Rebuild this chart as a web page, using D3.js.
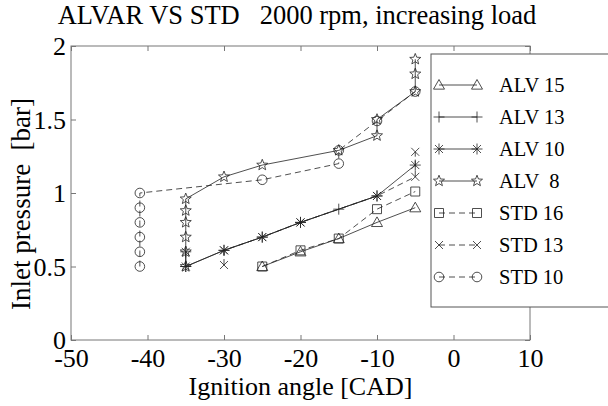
<!DOCTYPE html>
<html><head><meta charset="utf-8">
<script src="https://cdn.jsdelivr.net/npm/d3@7"></script>
<style>body{margin:0;background:#fff}svg{display:block}text{font-family:"Liberation Serif","Times New Roman",serif;fill:#000}</style>
</head><body>
<svg id="c" width="608" height="406"></svg>
<script>
const xTicks = [-50,-40,-30,-20,-10,0,10];
const yTicks = [0,0.5,1,1.5,2];
const yTickLabels = ["0","0.5","1","1.5","2"];

const alv15X = [-25,-20,-15,-10,-5];
const alv15Y = [0.5,0.6,0.69,0.8,0.9];
const alv13X = [-35,-30,-25,-20,-15,-10];
const alv13Y = [0.5,0.61,0.7,0.8,0.89,0.98];
const alv10X = [-35,-35,-30,-25,-20,-10,-5];
const alv10Y = [0.6,0.5,0.61,0.7,0.8,0.98,1.19];
const alv8X = [-35,-35,-35,-35,-35,-35,-30,-25,-15,-10,-10,-5,-5,-5];
const alv8Y = [0.5,0.6,0.7,0.8,0.88,0.96,1.11,1.19,1.29,1.39,1.5,1.69,1.81,1.91];
const std16X = [-25,-20,-15,-10,-5];
const std16Y = [0.5,0.61,0.69,0.89,1.01];
const std13X = [-30,-30,-25,-20,-10,-5,-5];
const std13Y = [0.51,0.61,0.7,0.8,0.98,1.11,1.28];
const std10X = [-41,-41,-41,-41,-41,-41,-25,-15,-15,-10,-5];
const std10Y = [0.5,0.6,0.7,0.8,0.9,1.0,1.09,1.2,1.29,1.49,1.69];

const seriesNames = ["ALV 15","ALV 13","ALV 10","ALV  8","STD 16","STD 13","STD 10"];
const seriesX = [alv15X,alv13X,alv10X,alv8X,std16X,std13X,std10X];
const seriesY = [alv15Y,alv13Y,alv10Y,alv8Y,std16Y,std13Y,std10Y];
const seriesMarker = ["triangle","plus","asterisk","star","square","x","circle"];
const seriesDashed = [false,false,false,false,true,true,true];

const W=608,H=406, L=71, R=530, T=46, B=340;
const FS = 26;
const svg = d3.select("#c");
const x = d3.scaleLinear().domain([-50,10]).range([L,R]);
const y = d3.scaleLinear().domain([0,2]).range([B,T]);

function markerPath(type){
  const p = d3.path();
  if(type==="triangle"){ const r=5.5; p.moveTo(0,-r); p.lineTo(r,r*0.75); p.lineTo(-r,r*0.75); p.closePath(); }
  else if(type==="plus"){ const r=5.5; p.moveTo(-r,0);p.lineTo(r,0);p.moveTo(0,-r);p.lineTo(0,r); }
  else if(type==="x"){ const r=4; p.moveTo(-r,-r);p.lineTo(r,r);p.moveTo(-r,r);p.lineTo(r,-r); }
  else if(type==="asterisk"){ const r=5.5,d=4; p.moveTo(-r,0);p.lineTo(r,0);p.moveTo(0,-r);p.lineTo(0,r);p.moveTo(-d,-d);p.lineTo(d,d);p.moveTo(-d,d);p.lineTo(d,-d); }
  else if(type==="square"){ const r=4.5; p.rect(-r,-r,2*r,2*r); }
  else if(type==="circle"){ p.arc(0,0,4.8,0,Math.PI*2); p.closePath(); }
  else if(type==="star"){ const ro=5.8, ri=2.5; for(let i=0;i<10;i++){ const a=-Math.PI/2+i*Math.PI/5; const rr=i%2?ri:ro; const px=rr*Math.cos(a), py=rr*Math.sin(a); if(i===0)p.moveTo(px,py); else p.lineTo(px,py);} p.closePath(); }
  return p.toString();
}

const g = svg.append("g");
g.append("rect").attr("x",L).attr("y",T).attr("width",R-L).attr("height",B-T)
 .attr("fill","none").attr("stroke","#777").attr("stroke-width",1);

const axB = d3.axisBottom(x).tickValues(xTicks).tickSize(-5).tickPadding(9).tickFormat(d=>String(d));
const axT = d3.axisTop(x).tickValues(xTicks).tickSize(-5).tickFormat("");
const axLf = d3.axisLeft(y).tickValues(yTicks).tickSize(-5).tickPadding(5).tickFormat((d,i)=>yTickLabels[i]);
const axRt = d3.axisRight(y).tickValues(yTicks).tickSize(-5).tickFormat("");
function styleAx(sel){ sel.attr("font-family",null).attr("font-size",null);
  sel.select(".domain").remove(); sel.selectAll(".tick line").attr("stroke","#777");
  sel.selectAll("text").style("font-size",FS+"px").attr("fill","#000"); }
g.append("g").attr("transform",`translate(0,${B})`).call(axB).call(styleAx);
g.append("g").attr("transform",`translate(0,${T})`).call(axT).call(styleAx);
const gl = g.append("g").attr("transform",`translate(${L},0)`).call(axLf).call(styleAx);
gl.selectAll(".tick text").attr("dy","0.33em");
g.append("g").attr("transform",`translate(${R},0)`).call(axRt).call(styleAx);

const line = d3.line().x(d=>x(d[0])).y(d=>y(d[1]));
seriesNames.forEach((n,i)=>{
  const pts = seriesX[i].map((v,j)=>[v, seriesY[i][j]]);
  svg.append("path").attr("d",line(pts)).attr("fill","none").attr("stroke","#222")
    .attr("stroke-width",0.8).attr("stroke-dasharray",seriesDashed[i]?"6,4":null);
  svg.append("g").selectAll("path").data(pts).join("path")
    .attr("transform",d=>`translate(${x(d[0])},${y(d[1])})`)
    .attr("d",markerPath(seriesMarker[i])).attr("fill","none").attr("stroke","#222").attr("stroke-width",0.8);
});

svg.append("text").attr("x",297).attr("y",24).attr("text-anchor","middle")
  .style("white-space","pre").style("font-size","26.5px")
  .text("ALVAR VS STD   2000 rpm, increasing load");
svg.append("text").attr("x",(L+R)/2).attr("y",395).attr("text-anchor","middle")
  .style("font-size",FS+"px").text("Ignition angle [CAD]");
svg.append("text").attr("transform",`translate(30,204) rotate(-90)`).attr("text-anchor","middle")
  .style("white-space","pre").style("font-size","27px").text("Inlet pressure  [bar]");

const lg = svg.append("g");
lg.append("rect").attr("x",431).attr("y",54).attr("width",190).attr("height",253)
  .attr("fill","#fff").attr("stroke","#555").attr("stroke-width",1);
seriesNames.forEach((n,i)=>{
  const cy = 85 + i*32;
  lg.append("line").attr("x1",439).attr("x2",477).attr("y1",cy).attr("y2",cy)
    .attr("stroke","#222").attr("stroke-width",0.8).attr("stroke-dasharray",seriesDashed[i]?"6,4":null);
  [439,477].forEach(mx=>lg.append("path").attr("transform",`translate(${mx},${cy})`)
    .attr("d",markerPath(seriesMarker[i])).attr("fill","none").attr("stroke","#222").attr("stroke-width",0.8));
  lg.append("text").attr("x",499).attr("y",cy+7).style("white-space","pre").style("font-size","20.5px").text(n);
});
</script>
</body></html>
